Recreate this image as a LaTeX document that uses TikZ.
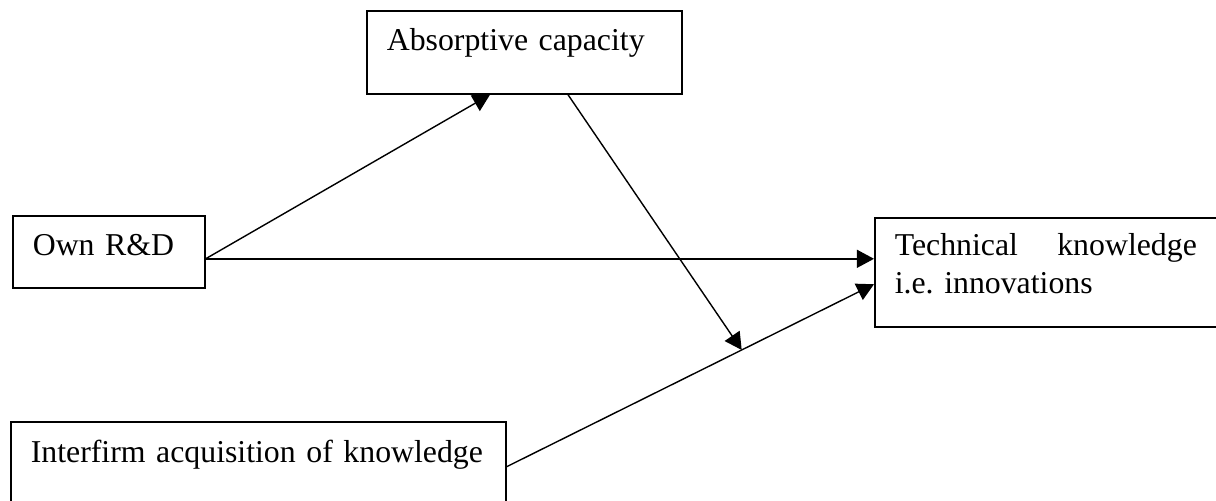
\documentclass[tikz,border=0pt]{standalone}
\usepackage{fontspec}
\setmainfont{Liberation Serif}
\usepackage{tikz}
\usetikzlibrary{positioning, arrows.meta, calc}

\begin{document}
\begin{tikzpicture}[x=0.02cm, y=-0.02cm,
    box/.style={draw, line width=0.9pt, anchor=north west, inner ysep=0pt, inner xsep=11.4pt,
                align=left, font=\fontsize{18.1}{21.6}\selectfont},
    link/.style={line width=0.8pt, -{Triangle[length=9.7pt, width=10.2pt]}}]
  \clip (0,0) rectangle (1216,500);
  % boxes
  \node[box, text width=156.5pt, text height=22.8pt, text depth=24.5pt] (absorb) at (366,10) {Absorptive capacity};
  \node[box, text width=86.5pt, text height=22.8pt, text depth=18.2pt] (ownrd) at (12,215) {Own R\&D};
  \node[box, align=justify, text width=171.9pt, text height=21.6pt, text depth=40.4pt] (technical) at (874,217)
    {Technical knowledge i.e. innovations};
  \node[box, text width=258.9pt, text height=23.3pt, text depth=27.9pt] (interfirm) at (10,421)
    {Interfirm acquisition of knowledge};

  % arrows
  \coordinate (ownout) at ($(ownrd.east)+(0,7)$);
  \draw[link] (ownout) -- ($(absorb.south west)+(124,0)$);
  \draw[link] (ownout) -- (ownout -| technical.west);
  \draw[link] (interfirm.east) -- ($(technical.west)+(0,12)$) coordinate[pos=0.64] (meet);
  \draw[link] ($(absorb.south west)+(202,0)$) -- (meet);
\end{tikzpicture}
\end{document}
